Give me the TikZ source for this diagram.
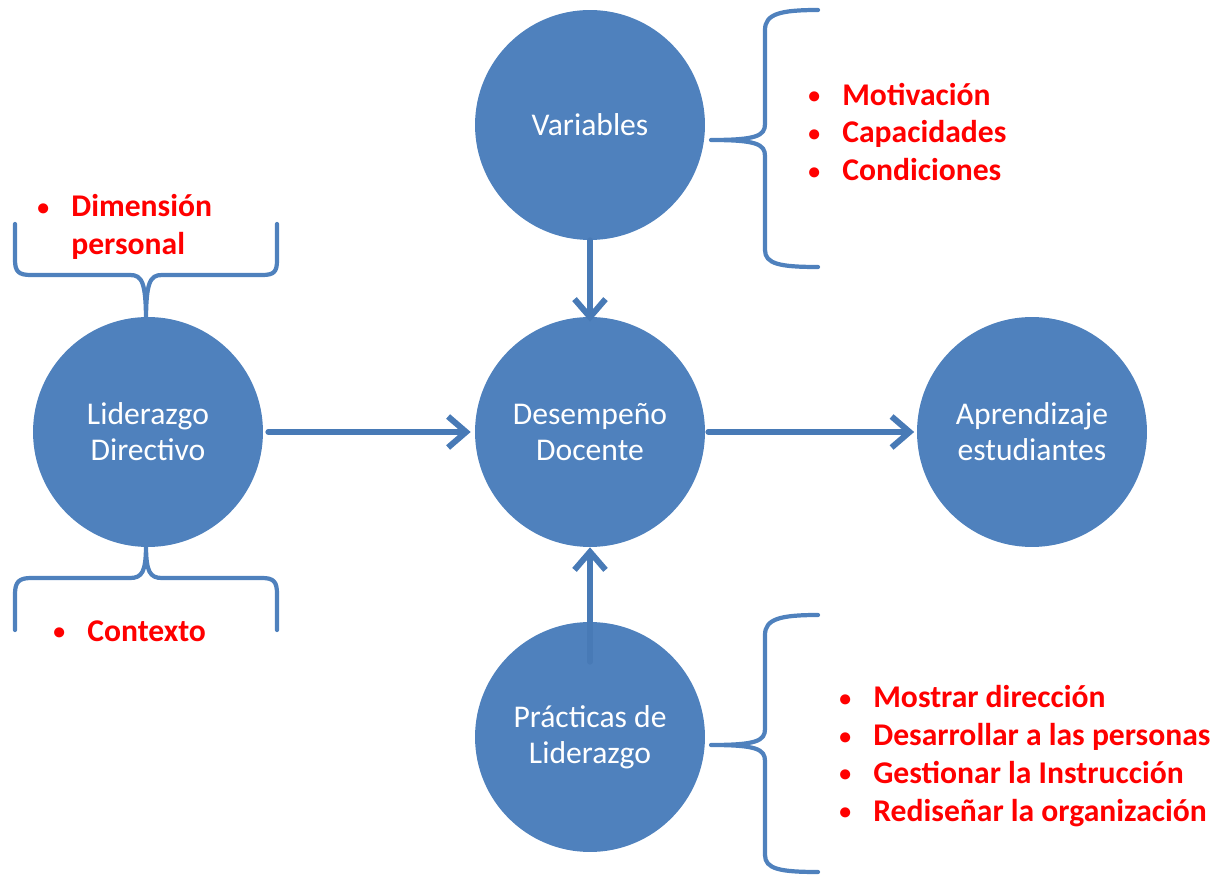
\documentclass[tikz,border=0pt]{standalone}
\usepackage{fontspec}
\setmainfont{Carlito}
\usetikzlibrary{positioning,calc,arrows.meta}

\definecolor{offblue}{RGB}{79,129,189}
\definecolor{arrblue}{RGB}{72,122,182}

\begin{document}
\begin{tikzpicture}[x=0.02cm,y=-0.02cm,line cap=round,line join=round]
	% styles
	\tikzset{
		bubble/.style={circle,fill=offblue,minimum size=4.6cm,inner sep=0pt,text=white,align=center,
			font=\fontsize{18}{20.4}\selectfont},
		flow/.style={arrblue,line width=3.4pt,-{Straight Barb[length=0.36cm,width=0.62cm]}},
		brace/.style={offblue,line width=2.4pt},
		redlist/.style={text=red,anchor=west,inner sep=0pt,align=left,
			font=\fontsize{18}{21.5}\selectfont\bfseries},
	}
	\def\bul{\makebox[0.72cm][l]{\hspace{0.04cm}\raisebox{0.03cm}{\fontsize{13.5}{13.5}\selectfont\textbullet}}}
	
	\useasboundingbox (0,0) rectangle (1218,878);
	
	% circles
	\node[bubble] (var) at (590,125) {Variables};
	\node[bubble] (des) at (590,432) {Desempeño\\Docente};
	\node[bubble] (lid) at (148,432) {Liderazgo\\Directivo};
	\node[bubble] (apr) at (1032,432) {Aprendizaje\\estudiantes};
	\node[bubble] (pra) at (590,737) {Prácticas de\\Liderazgo};
	
	% arrows
	\draw[flow,shorten <=0.1cm,shorten >=0.08cm] (lid.east) -- (des.west);
	\draw[flow,shorten <=0.06cm,shorten >=0.05cm] (des.east) -- (apr.west);
	\draw[flow,shorten >=-0.1cm] (var.south) -- (des.north);
	\draw[flow] ($(pra.north)+(0,40)$) -- (des.south);
	
	% right braces (Variables, Practicas)
	\foreach \yo in {0,605}{
		\draw[brace] (818,10+\yo) .. controls (780,10+\yo) and (765,14+\yo) .. (765,30+\yo)
		-- (765,124+\yo) .. controls (765,136+\yo) and (756,140+\yo) .. (711,140+\yo)
		.. controls (756,140+\yo) and (765,144+\yo) .. (765,156+\yo)
		-- (765,250+\yo) .. controls (765,264+\yo) and (780,267+\yo) .. (818,267+\yo);
	}
	
	% left braces (Liderazgo)
	\draw[brace] (15,224) -- (15,260) .. controls (15,272) and (19,275) .. (31,275)
	-- (130,275) .. controls (142,275) and (146,282) .. (146,322)
	.. controls (146,282) and (150,275) .. (162,275)
	-- (262,275) .. controls (274,275) and (277,272) .. (277,260) -- (277,224);
	\draw[brace] (15,630) -- (15,594) .. controls (15,582) and (19,578) .. (31,578)
	-- (130,578) .. controls (142,578) and (146,572) .. (146,545)
	.. controls (146,572) and (150,578) .. (162,578)
	-- (262,578) .. controls (274,578) and (277,582) .. (277,594) -- (277,630);
	
	% red lists
	\node[redlist] (lvar) at (806,132) {\bul Motivación\\\bul Capacidades\\\bul Condiciones};
	\node[redlist] (lpra) at (837,756) {\bul Mostrar dirección\\\bul Desarrollar a las personas\\\bul Gestionar la Instrucción\\\bul Rediseñar la organización};
	\node[redlist] (ldim) at (35,227) {\bul Dimensión\\\hspace*{0.72cm}personal};
	\node[redlist] (lcon) at (51,631) {\bul Contexto};
\end{tikzpicture}
\end{document}
